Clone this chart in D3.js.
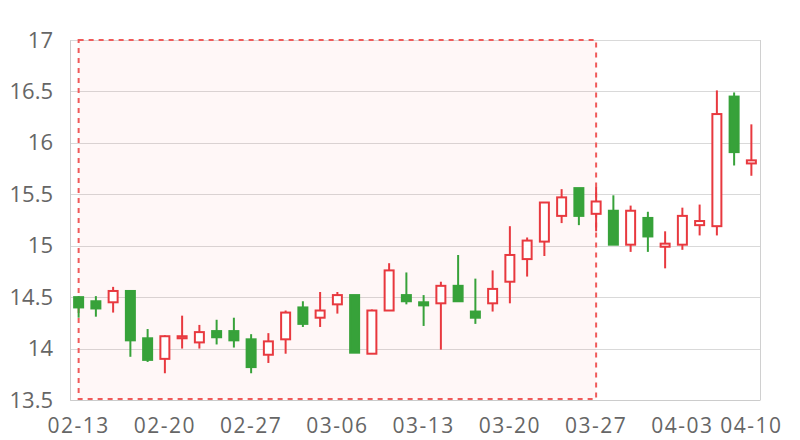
<!DOCTYPE html>
<html>
<head>
<meta charset="utf-8">
<script src="https://cdn.jsdelivr.net/npm/d3@7"></script>
<style>
  html, body { margin: 0; padding: 0; background: #fff; }
  svg { display: block; }
</style>
</head>
<body>
<svg id="chart" width="800" height="440"></svg>
<script>
const dates = ["02-13","02-14","02-15","02-16","02-17","02-20","02-21","02-22","02-23","02-24",
  "02-27","02-28","03-01","03-02","03-03","03-06","03-07","03-08","03-09","03-10",
  "03-13","03-14","03-15","03-16","03-17","03-20","03-21","03-22","03-23","03-24",
  "03-27","03-28","03-29","03-30","03-31","04-03","04-04","04-06","04-07","04-10"];
const openValues  = [14.50,14.46,14.45,14.56,14.10,13.90,14.10,14.06,14.17,14.17,
  14.09,13.94,14.09,14.40,14.30,14.43,14.52,13.95,14.37,14.52,
  14.45,14.44,14.61,14.36,14.44,14.65,14.87,15.04,15.29,15.56,
  15.31,15.34,15.01,15.27,14.99,15.01,15.20,15.19,16.45,15.80];
const closeValues = [14.40,14.39,14.56,14.08,13.89,14.12,14.12,14.16,14.11,14.08,
  13.82,14.07,14.35,14.24,14.37,14.52,13.96,14.37,14.76,14.46,
  14.42,14.61,14.46,14.30,14.58,14.91,15.05,15.42,15.47,15.29,
  15.43,15.01,15.34,15.09,15.02,15.29,15.24,16.28,15.91,15.83];
const lowValues   = [14.30,14.31,14.35,13.92,13.87,13.76,14.00,14.00,14.04,14.01,
  13.76,13.86,13.95,14.21,14.21,14.34,13.96,13.95,14.37,14.43,
  14.22,13.99,14.46,14.24,14.36,14.44,14.70,14.90,15.22,15.20,
  15.14,15.01,14.94,14.94,14.78,14.96,15.10,15.10,15.78,15.68];
const highValues  = [14.51,14.51,14.60,14.56,14.19,14.13,14.32,14.23,14.28,14.30,
  14.14,14.15,14.37,14.46,14.55,14.55,14.52,14.38,14.83,14.74,
  14.52,14.65,14.91,14.68,14.76,15.19,15.08,15.42,15.55,15.56,
  15.57,15.49,15.39,15.33,15.14,15.37,15.40,16.51,16.49,16.18];
const xTickLabels = ["02-13","02-20","02-27","03-06","03-13","03-20","03-27","04-03","04-10"];
const yTicks = [13.5,14,14.5,15,15.5,16,16.5,17];
const markAreaRange = ["02-13","03-27"];

(function () {
const data = dates.map((d,i)=>({date:d, open:openValues[i], close:closeValues[i], low:lowValues[i], high:highValues[i]}));

const svg = d3.select("#chart");
const pLeft = 70, pRight = 760, pTop = 40, pBottom = 400;
const RED = "#e8393f", GREEN = "#37a23a";

const x = d3.scaleBand().domain(dates).range([pLeft, pRight]).padding(0);
const y = d3.scaleLinear().domain([13.5, 17]).range([pBottom, pTop]);
const cx = d => x(d) + x.bandwidth()/2;

// gridlines
svg.append("g").selectAll("line").data(yTicks).join("line")
  .attr("x1", pLeft).attr("x2", pRight)
  .attr("y1", d => Math.round(y(d)) + 0.5).attr("y2", d => Math.round(y(d)) + 0.5)
  .attr("stroke", "#d9d9d9").attr("stroke-width", 1);
// right border
svg.append("line").attr("x1", pRight+0.5).attr("x2", pRight+0.5).attr("y1", pTop).attr("y2", pBottom)
  .attr("stroke", "#d0d0d0");

// mark area
const mx0 = cx(markAreaRange[0]), mx1 = cx(markAreaRange[1]);
svg.append("rect")
  .attr("x", mx0).attr("y", y(17)).attr("width", mx1 - mx0).attr("height", y(13.5) - y(17) - 1)
  .attr("fill", "rgba(255,60,60,0.04)")
  .attr("stroke", "#f05a5a").attr("stroke-width", 2).attr("stroke-dasharray", "5,5");

// axes
const yAxis = d3.axisLeft(y).tickValues(yTicks).tickSize(0).tickPadding(17).tickFormat(d3.format("~g"));
const gy = svg.append("g").attr("transform", `translate(${pLeft},0)`).call(yAxis);
gy.select(".domain").attr("stroke", "#cccccc");
gy.selectAll("text").attr("font-family", "'Open Sans', sans-serif").attr("font-size", 22).attr("fill", "#666");

const xAxis = d3.axisBottom(x).tickValues(xTickLabels).tickSize(0).tickPadding(18);
const gx = svg.append("g").attr("transform", `translate(0,${pBottom})`).call(xAxis);
gx.select(".domain").attr("stroke", "#cccccc");
gx.selectAll("text").attr("font-family", "'Open Sans', sans-serif").attr("font-size", 21)
  .attr("letter-spacing", "1.5px").attr("fill", "#666");

// candles
const g = svg.append("g");
const bw = 9;
const candles = g.selectAll("g.c").data(data).join("g").attr("class","c");
candles.append("line")
  .attr("x1", d => cx(d.date)).attr("x2", d => cx(d.date))
  .attr("y1", d => y(d.high)).attr("y2", d => y(d.low))
  .attr("stroke", d => d.close >= d.open ? RED : GREEN).attr("stroke-width", 2);
candles.append("rect")
  .attr("x", d => cx(d.date) - bw/2).attr("width", bw)
  .attr("y", d => y(Math.max(d.open, d.close)))
  .attr("height", d => Math.max(0.5, Math.abs(y(d.open) - y(d.close))))
  .attr("fill", d => d.close >= d.open ? "#fff" : GREEN)
  .attr("stroke", d => d.close >= d.open ? RED : GREEN).attr("stroke-width", 2);
})();
</script>
</body>
</html>
